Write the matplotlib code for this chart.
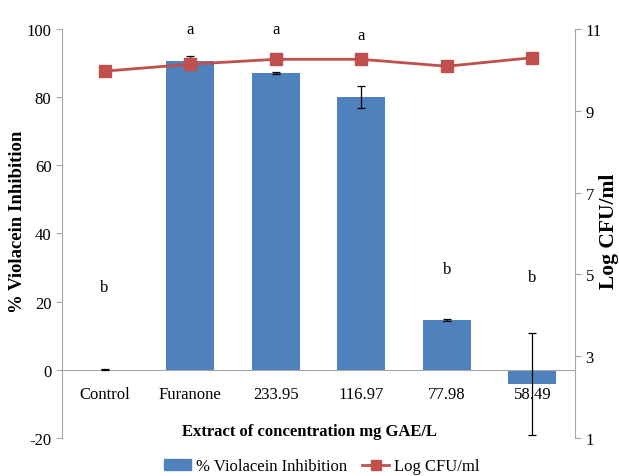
import numpy as np
import matplotlib
matplotlib.use("Agg")
import matplotlib.pyplot as plt
from matplotlib.lines import Line2D
from matplotlib.patches import Patch

# data
categories = ["Control", "Furanone", "233.95", "116.97", "77.98", "58.49"]
inhibition = [0.0, 90.5, 87.2, 80.1, 14.6, -4.2]
inhibition_err = [0.2, 1.5, 0.3, 3.2, 0.3, 15.0]
log_cfu = [9.97, 10.14, 10.26, 10.26, 10.09, 10.30]
letters = ["b", "a", "a", "a", "b", "b"]
letter_y = [24.2, 100.1, 100.1, 98.4, 29.5, 27.2]

blue = "#4F81BD"
red = "#C0504D"
grey = "#A6A6A6"

plt.rcParams['font.family'] = ['Liberation Serif', 'DejaVu Serif']
plt.rcParams['axes.unicode_minus'] = False

fig = plt.figure(figsize=(6.19, 4.77), dpi=100)
ax = fig.add_axes([0.1, 0.08, 0.829, 0.857])
x = np.arange(len(categories))

ax.bar(x, inhibition, width=0.56, color=blue, zorder=2)
ax.errorbar(x, inhibition, yerr=inhibition_err, fmt='none', ecolor='black',
            elinewidth=0.9, capsize=3, capthick=0.9, zorder=3)
for xi, t, ty in zip(x, letters, letter_y):
    ax.text(xi, ty, t, ha='center', va='center', fontsize=12)

ax.set_xlim(-0.5, len(categories) - 0.5)
ax.set_ylim(-20, 100)
ax.set_yticks(range(-20, 101, 20))
ax.spines['top'].set_visible(False)
ax.spines['right'].set_visible(False)
ax.spines['left'].set_color(grey)
ax.spines['bottom'].set_color(grey)
ax.spines['bottom'].set_position(('data', 0))
ax.set_xticks(x)
ax.set_xticklabels(categories, fontsize=12)
ax.tick_params(axis='x', length=0, pad=12)
ax.tick_params(axis='y', colors=grey, labelcolor='black', labelsize=12, length=4)

ax2 = ax.twinx()
ax2.plot(x, log_cfu, color=red, marker='s', markersize=8, linewidth=2, zorder=4)
ax2.set_ylim(1, 11)
ax2.set_yticks(range(1, 12, 2))
for s in ['top', 'left', 'bottom']:
    ax2.spines[s].set_visible(False)
ax2.spines['right'].set_color(grey)
ax2.tick_params(axis='y', colors=grey, labelcolor='black', labelsize=12, length=4)
ax2.set_zorder(ax.get_zorder() + 1)
ax2.patch.set_visible(False)

fig.text(0.028, 0.535, "% Violacein Inhibition", rotation=90, ha='center', va='center',
         fontsize=13.5, fontweight='bold')
fig.text(0.984, 0.516, "Log CFU/ml", rotation=90, ha='center', va='center',
         fontsize=15.5, fontweight='bold')
fig.text(0.5, 0.094, "Extract of concentration mg GAE/L", ha='center', va='center',
         fontsize=12, fontweight='bold')

handles = [Patch(color=blue, label="% Violacein Inhibition"),
           Line2D([], [], color=red, marker='s', markersize=7, linewidth=2, label="Log CFU/ml")]
fig.legend(handles=handles, loc='center', bbox_to_anchor=(0.52, 0.02), ncol=2,
           frameon=False, fontsize=12, handlelength=1.6, handletextpad=0.3, columnspacing=0.9)

fig.savefig("out.png", dpi=100)
